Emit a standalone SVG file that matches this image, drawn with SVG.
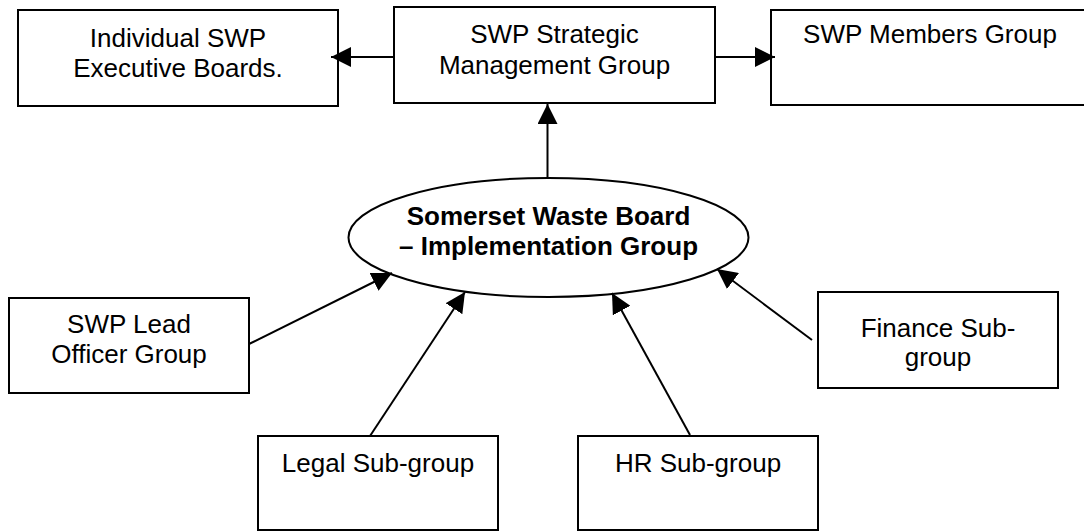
<svg xmlns="http://www.w3.org/2000/svg" width="1084" height="532" viewBox="0 0 1084 532">
  <style>
    .box { fill: #ffffff; stroke: #000000; stroke-width: 2; }
    .lbl { font-family: "Liberation Sans", Arial, sans-serif; font-size: 26px; fill: #000000; text-anchor: middle; }
    .bold { font-weight: bold; }
    .conn { stroke: #000000; stroke-width: 2; fill: none; marker-end: url(#arrow); }
  </style>
  <defs>
    <marker id="arrow" markerUnits="userSpaceOnUse" markerWidth="20" markerHeight="20" refX="20" refY="10" orient="auto">
      <path d="M0,0 L20,10 L0,20 Z" fill="#000000"/>
    </marker>
  </defs>
  <rect width="1084" height="532" fill="#ffffff"/>

  <g id="node-exec-boards">
    <rect class="box" x="18" y="10" width="320" height="96"/>
    <text class="lbl" x="178" y="47">Individual SWP</text>
    <text class="lbl" x="178" y="77">Executive Boards.</text>
  </g>

  <g id="node-strategic">
    <rect class="box" x="394" y="7" width="321" height="96"/>
    <text class="lbl" x="554.5" y="43">SWP Strategic</text>
    <text class="lbl" x="554.5" y="74">Management Group</text>
  </g>

  <g id="node-members">
    <rect class="box" x="771" y="10" width="318" height="95"/>
    <text class="lbl" x="930" y="43">SWP Members Group</text>
  </g>

  <g id="node-implementation">
    <ellipse class="box" cx="548.5" cy="237.5" rx="200" ry="59.5"/>
    <text class="lbl bold" x="548.5" y="225">Somerset Waste Board</text>
    <text class="lbl bold" x="548.5" y="255">– Implementation Group</text>
  </g>

  <g id="node-lead-officer">
    <rect class="box" x="9" y="298" width="240" height="95"/>
    <text class="lbl" x="129" y="333">SWP Lead</text>
    <text class="lbl" x="129" y="363">Officer Group</text>
  </g>

  <g id="node-finance">
    <rect class="box" x="818" y="292" width="240" height="96"/>
    <text class="lbl" x="938" y="337">Finance Sub-</text>
    <text class="lbl" x="938" y="366">group</text>
  </g>

  <g id="node-legal">
    <rect class="box" x="258" y="436" width="240" height="94"/>
    <text class="lbl" x="378" y="472">Legal Sub-group</text>
  </g>

  <g id="node-hr">
    <rect class="box" x="578" y="436" width="240" height="94"/>
    <text class="lbl" x="698" y="472">HR Sub-group</text>
  </g>

  <g id="connectors">
    <line class="conn" x1="394" y1="57" x2="331" y2="57"/>
    <line class="conn" x1="715" y1="57" x2="775" y2="57"/>
    <line class="conn" x1="547.5" y1="178" x2="547.5" y2="104"/>
    <line class="conn" x1="249" y1="344" x2="392" y2="273"/>
    <line class="conn" x1="370" y1="436" x2="465" y2="292"/>
    <line class="conn" x1="690" y1="435" x2="612" y2="293"/>
    <line class="conn" x1="812" y1="340" x2="717" y2="269"/>
  </g>
</svg>
